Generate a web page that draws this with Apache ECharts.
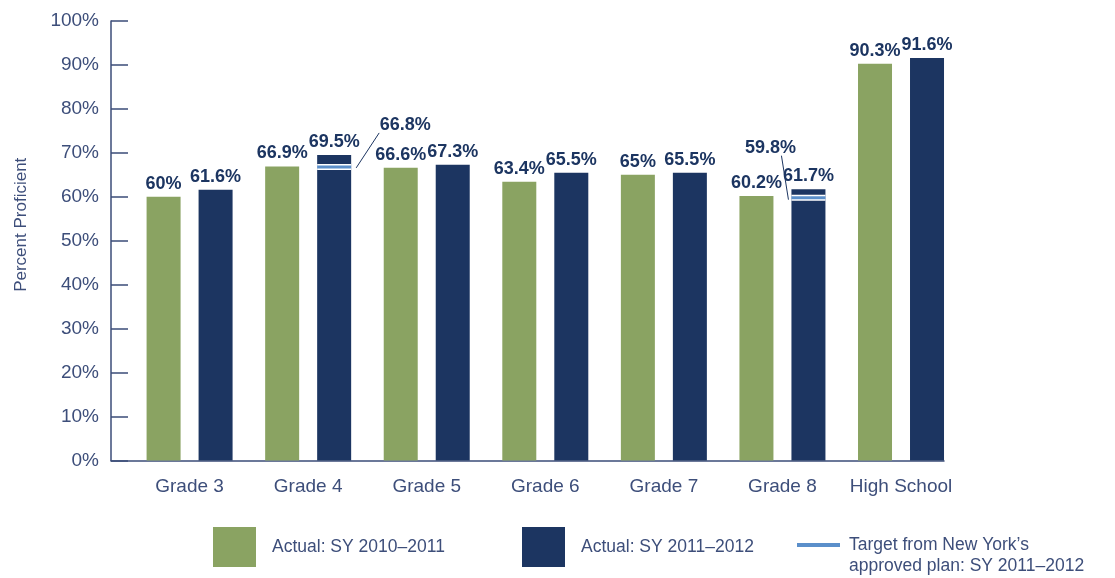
<!DOCTYPE html>
<html>
<head>
<meta charset="utf-8">
<script src="https://cdn.jsdelivr.net/npm/echarts@6/dist/echarts.min.js"></script>
<style>
html,body{margin:0;padding:0;background:#fff;}
#chart{width:1115px;height:578px;}
</style>
</head>
<body>
<div id="chart"></div>
<script>
// ---- data ----
const categories = ['Grade 3', 'Grade 4', 'Grade 5', 'Grade 6', 'Grade 7', 'Grade 8', 'High School'];
const actual2011 = [60, 66.9, 66.6, 63.4, 65, 60.2, 90.3];
const actual2012 = [61.6, 69.5, 67.3, 65.5, 65.5, 61.7, 91.6];
const target2012 = [null, 66.8, null, null, null, 59.8, null];
const yTicks = [0, 10, 20, 30, 40, 50, 60, 70, 80, 90, 100];

const seriesNames = ['Actual: SY 2010\u20132011', 'Actual: SY 2011\u20132012', 'Target from New York\u2019s\napproved plan: SY 2011\u20132012'];

// ---- style ----
const GREEN = '#8aa362';
const NAVY = '#1c3561';
const BLUE = '#5b8fca';
const AXIS = '#3b4c78';
const LABEL = '#3d4e7a';
const FONT = '"Liberation Sans", Arial, sans-serif';
const BAR_W = 34;
const BAR_GAP_PX = 18;
const NAVY_OFFSET = (BAR_W + BAR_GAP_PX) / 2;
// annotation offsets (relative to target marker centre) for leader line + label
const targetAnno = {
  1: {l1: [22, 1], l2: [45, -34], t: [71, -42]},
  5: {l1: [-20, 2], l2: [-27, -42], t: [-38, -50]}
};

const targetData = [];
target2012.forEach((v, i) => { if (v != null) targetData.push([i, v]); });

const chart = echarts.init(document.getElementById('chart'), null, {renderer: 'canvas'});

const barLabel = {
  show: true, position: 'top', distance: 4,
  formatter: p => p.value + '%',
  fontFamily: FONT, fontSize: 18, fontWeight: 'bold', color: NAVY
};

chart.setOption({
  animation: false,
  backgroundColor: '#fff',
  textStyle: {fontFamily: FONT},
  grid: [
    {left: 130.3, right: 154.7, top: 21, bottom: 117.5},
    {left: 111, right: 171, top: 21, bottom: 117.5}
  ],
  xAxis: [
    {
      type: 'category', gridIndex: 0, data: categories,
      axisLine: {show: false}, axisTick: {show: false},
      axisLabel: {fontFamily: FONT, fontSize: 19, color: LABEL, margin: 17, interval: 0}
    },
    {
      type: 'value', gridIndex: 1, min: 0, max: 1,
      axisLine: {show: true, lineStyle: {color: AXIS, width: 1.5}},
      axisTick: {show: false}, axisLabel: {show: false}, splitLine: {show: false}
    }
  ],
  yAxis: [
    {type: 'value', gridIndex: 0, min: 0, max: 100, show: false},
    {
      type: 'value', gridIndex: 1, min: yTicks[0], max: yTicks[yTicks.length - 1], interval: yTicks[1] - yTicks[0],
      axisLine: {show: true, lineStyle: {color: AXIS, width: 1.5}},
      axisTick: {show: true, inside: true, length: 17, lineStyle: {color: AXIS, width: 1.5}},
      axisLabel: {formatter: '{value}%', fontFamily: FONT, fontSize: 19, color: LABEL, margin: 12},
      splitLine: {show: false},
      name: 'Percent Proficient', nameLocation: 'middle', nameGap: 81, nameRotate: 90,
      nameTextStyle: {fontFamily: FONT, fontSize: 17, color: LABEL, padding: [0, 0, 0, 32]}
    }
  ],
  legend: [
    {
      data: [{name: seriesNames[0], icon: 'rect'}], left: 213, top: 527, padding: 0,
      itemWidth: 43, itemHeight: 40, selectedMode: false,
      textStyle: {fontFamily: FONT, fontSize: 17.5, color: LABEL, padding: [0, 0, 0, 11]}
    },
    {
      data: [{name: seriesNames[1], icon: 'rect'}], left: 522, top: 527, padding: 0,
      itemWidth: 43, itemHeight: 40, selectedMode: false,
      textStyle: {fontFamily: FONT, fontSize: 17.5, color: LABEL, padding: [0, 0, 0, 11]}
    },
    {
      data: [{name: seriesNames[2], icon: 'rect'}], left: 797, top: 513.5, padding: 0,
      itemWidth: 43, itemHeight: 4, selectedMode: false,
      formatter: name => '\n' + name,
      textStyle: {fontFamily: FONT, fontSize: 17.5, color: LABEL, lineHeight: 21, padding: [0, 0, 0, 4]}
    }
  ],
  series: [
    {
      name: seriesNames[0], type: 'bar', xAxisIndex: 0, yAxisIndex: 0,
      data: actual2011, barWidth: BAR_W, barGap: (BAR_GAP_PX / BAR_W * 100) + '%',
      itemStyle: {color: GREEN}, label: barLabel
    },
    {
      name: seriesNames[1], type: 'bar', xAxisIndex: 0, yAxisIndex: 0,
      data: actual2012, barWidth: BAR_W, barGap: (BAR_GAP_PX / BAR_W * 100) + '%',
      itemStyle: {color: NAVY}, label: barLabel
    },
    {
      name: seriesNames[2], type: 'custom', xAxisIndex: 0, yAxisIndex: 0,
      data: targetData, itemStyle: {color: BLUE}, z: 5,
      renderItem: function (params, api) {
        const idx = api.value(0), v = api.value(1);
        const p = api.coord([idx, v]);
        const cx = p[0] + NAVY_OFFSET, cy = p[1];
        const a = targetAnno[idx] || {l1: [0, 0], l2: [0, -30], t: [0, -40]};
        return {
          type: 'group',
          children: [
            {type: 'rect', shape: {x: cx - BAR_W / 2, y: cy - 3, width: BAR_W, height: 6}, style: {fill: '#ffffff'}},
            {type: 'rect', shape: {x: cx - BAR_W / 2, y: cy - 1.5, width: BAR_W, height: 3}, style: {fill: BLUE}},
            {type: 'line', shape: {x1: cx + a.l1[0], y1: cy + a.l1[1], x2: cx + a.l2[0], y2: cy + a.l2[1]},
              style: {stroke: NAVY, lineWidth: 1}},
            {type: 'text', x: cx + a.t[0], y: cy + a.t[1],
              style: {text: v + '%', fill: NAVY, font: 'bold 18px ' + FONT, align: 'center', verticalAlign: 'middle'}}
          ]
        };
      }
    }
  ]
});
</script>
</body>
</html>
